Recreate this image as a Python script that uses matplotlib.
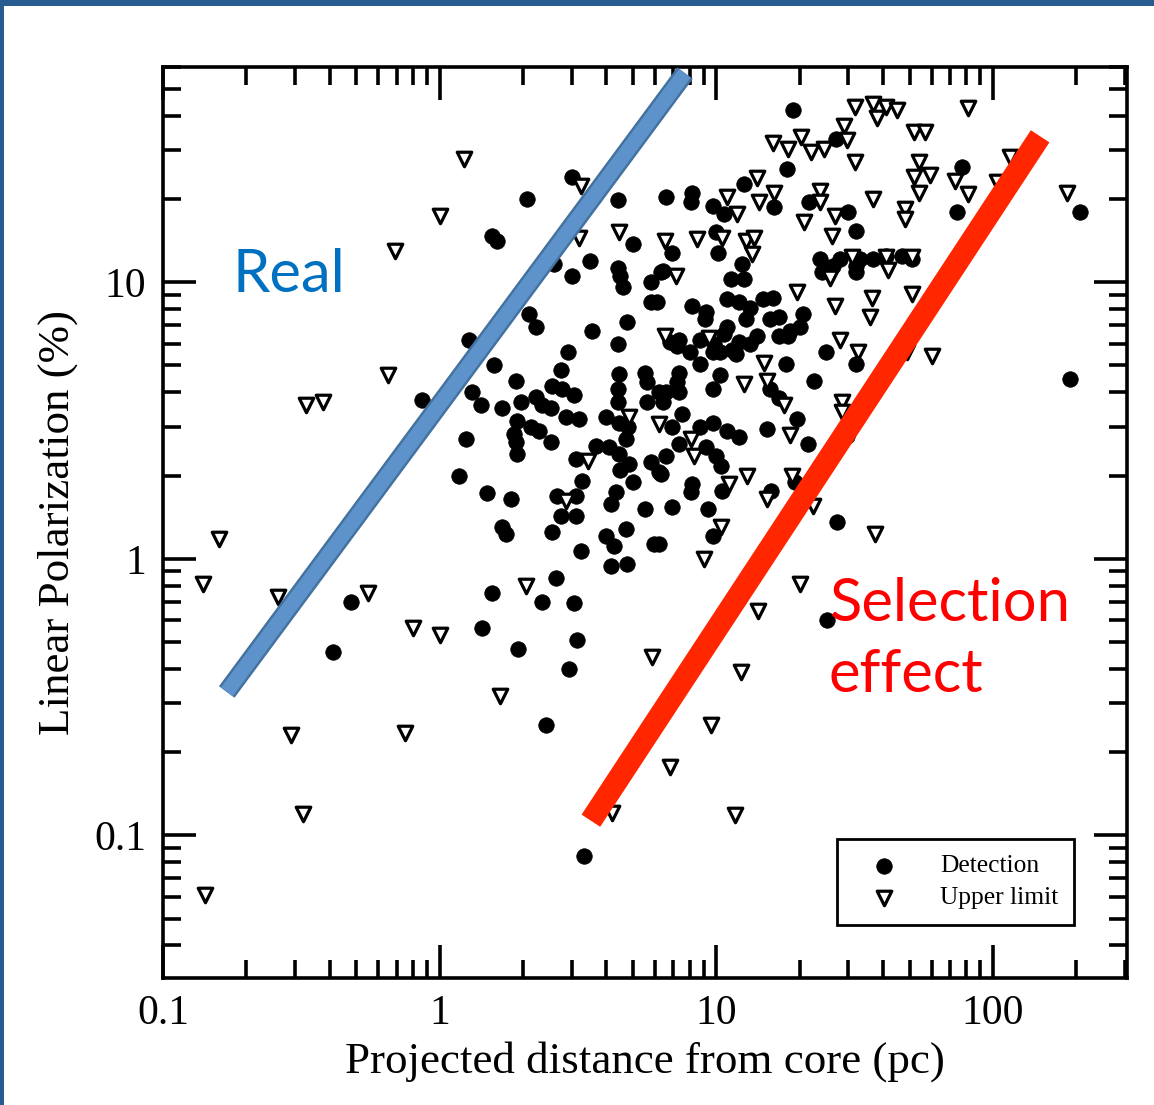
import matplotlib
matplotlib.use("Agg")
import matplotlib.pyplot as plt
import matplotlib.patheffects as pe
from matplotlib.patches import Rectangle

# ---------------- data ----------------
det_x = [3.0, 2.07, 4.4, 6.6, 1.54, 1.61, 3.5, 3.0, 4.4, 4.5, 4.6, 6.3, 5.8, 5.8, 6.1, 2.1, 2.23, 3.55, 4.76, 4.4, 1.28, 2.9, 2.6,
         19, 27, 18, 12.6, 8.2, 8.1, 9.7, 10.7, 16.2, 21.7, 30, 32, 10, 10.1, 6.9, 6.4, 12.4, 11.3, 12.6,
         23.6, 26.3, 32, 36.7, 47, 51, 28, 33, 41, 24, 32, 5.0,
         8.2, 9.2, 10.9, 12.1, 13.2, 16, 16.9, 20.5, 20, 18.1, 10.9, 12.8, 14, 12.1, 11.4, 10.3, 7.2, 8.0, 9.7, 7.35, 8.7, 25, 16.9,
         9.1, 14.7, 15.6, 18.4, 10.7, 6.8, 9.8, 13.2,
         1.57, 1.88, 2.74, 4.45, 5.5, 5.6, 2.55, 2.77, 3.06, 4.4, 1.31, 1.41, 1.97, 2.23, 2.34, 2.53, 1.68, 4.4, 5.6, 6.2,
         2.86, 3.2, 4.0, 4.45, 4.8, 1.9, 2.14, 2.28, 1.85, 1.88, 1.9, 2.53, 1.24, 4.7, 3.67, 4.1, 4.45, 3.1, 4.84, 4.5,
         5.8, 6.2, 5.0, 3.27, 1.17, 1.48, 1.81, 2.65, 3.1, 4.34, 4.17, 5.5, 2.74, 3.1, 1.68, 1.73, 2.55, 4.0, 4.7, 4.27,
         5.96, 3.24, 4.17, 4.76, 2.63, 1.54,
         11.8, 8.7, 10.3, 9.7, 7.35, 7.2, 6.6, 7.35, 6.4, 22.6, 15.6, 16.9, 17.9, 32, 19.5, 15.2, 21.4, 7.5, 6.9, 8.7,
         9.7, 10.9, 12.1, 7.35, 6.6, 9.2, 10, 10.4, 6.3, 8.2, 8.1, 10.5, 15.8, 19.2, 6.9, 9.3, 9.7, 27.4, 6.2, 29.6,
         0.86, 0.48, 1.42, 2.34, 0.41, 1.92, 3.13, 2.93, 2.42, 3.32, 3.06, 25.2, 190, 207, 77, 74]
det_y = [24, 20, 19.8, 20.3, 14.7, 14.1, 11.9, 10.5, 11.3, 10.5, 9.6, 10.9, 10, 8.5, 8.5, 7.7, 6.9, 6.65, 7.2, 6.0, 6.2, 5.6, 11.6,
         42, 33, 25.6, 22.6, 21, 19.5, 18.8, 17.6, 18.7, 19.5, 18, 15.3, 15.2, 12.8, 12.8, 11.0, 11.6, 10.3, 10.3,
         12.1, 11.4, 11.4, 12.1, 12.4, 12.1, 12.1, 12.1, 12.4, 10.9, 10.9, 13.7,
         8.2, 7.8, 8.7, 8.5, 8.1, 8.8, 7.5, 7.7, 6.9, 6.4, 6.9, 7.35, 6.4, 6.1, 5.7, 5.6, 5.9, 5.6, 5.6, 6.2, 6.2, 5.6, 6.4,
         7.35, 8.7, 7.35, 6.65, 6.5, 6.1, 6.0, 6.0,
         5.0, 4.4, 4.8, 4.65, 4.7, 4.36, 4.2, 4.1, 3.9, 4.1, 4.0, 3.6, 3.7, 3.85, 3.6, 3.5, 3.5, 3.7, 3.7, 4.0,
         3.26, 3.2, 3.26, 3.1, 3.0, 3.15, 3.0, 2.9, 2.83, 2.64, 2.4, 2.64, 2.7, 2.7, 2.56, 2.54, 2.4, 2.3, 2.2, 2.1,
         2.24, 2.06, 1.9, 1.91, 2.0, 1.73, 1.65, 1.69, 1.69, 1.75, 1.58, 1.52, 1.43, 1.43, 1.3, 1.23, 1.25, 1.21, 1.28, 1.11,
         1.13, 1.07, 0.94, 0.96, 0.85, 0.75,
         5.5, 5.06, 4.6, 4.1, 4.7, 4.36, 4.0, 4.0, 3.7, 4.4, 4.1, 3.8, 5.06, 5.06, 3.2, 2.94, 2.6, 3.34, 3.0, 3.0,
         3.1, 2.9, 2.76, 2.6, 2.35, 2.54, 2.35, 2.17, 2.03, 1.87, 1.75, 1.76, 1.76, 1.9, 1.54, 1.52, 1.21, 1.36, 1.13, 2.78,
         3.75, 0.70, 0.56, 0.70, 0.46, 0.47, 0.51, 0.40, 0.25, 0.084, 0.69, 0.60, 4.47, 17.9, 26, 18]

ul_x = [0.14, 0.16, 0.142, 0.26, 0.29, 0.32, 0.33, 0.38, 0.55, 0.65, 0.69, 0.75, 0.80, 1.0, 1.0, 1.22, 1.65, 2.05,
        3.24, 3.2, 4.45, 6.5, 6.5, 3.44, 4.84, 6.2, 2.86,
        31.6, 36.7, 41, 45, 38, 29, 29.6, 20.3, 16, 18.1, 22, 24.6, 31.6, 52, 57, 54, 52, 59, 54, 73, 81, 81, 115, 103, 185,
        36.7, 48, 48, 14, 10.9, 16.2, 14.3, 23.6, 23.6, 26.8, 26.1, 20.8, 8.5, 10.5, 12.8, 13.7, 13.4, 7.16,
        30.8, 41, 51, 41.7, 25.7, 19.5, 26.8, 36.5, 35.8, 51, 9.4, 27.9, 32.4, 60, 14.9, 12.6, 15.2, 17.6, 28.4, 28.4,
        18.4, 8.3, 8.1, 12.9, 18.7, 15.3, 22.3, 11.1, 10.4, 37.4, 9.06, 20, 14.2, 12.3, 9.6, 6.8, 11.7, 5.86, 4.2, 49, 11.9]
ul_y = [0.81, 1.18, 0.061, 0.73, 0.23, 0.119, 3.6, 3.7, 0.75, 4.6, 13, 0.235, 0.56, 0.53, 17.3, 27.8, 0.32, 0.80,
        22.2, 14.5, 15.2, 14.1, 6.4, 2.26, 3.26, 3.07, 1.62,
        43, 44, 43, 42, 39.4, 36.6, 32.8, 33.6, 32, 30.2, 29.5, 30.2, 27.1, 35, 34.8, 27.3, 24.1, 24.5, 21.1, 23.2, 20.8, 42.8, 28.3, 23, 21.1,
        20, 18.4, 16.9, 23.9, 20.4, 21.1, 19.5, 21.3, 19.5, 17.3, 14.7, 16.5, 14.3, 14.5, 14.1, 14.5, 12.6, 10.5,
        12.3, 12.3, 12.3, 11.1, 10.4, 9.2, 8.2, 8.8, 7.5, 9.05, 6.3, 6.2, 5.6, 5.4, 5.1, 4.3, 4.4, 3.6, 3.7, 3.4,
        2.8, 2.35, 2.7, 2.0, 2.0, 1.65, 1.55, 1.87, 1.3, 1.23, 1.0, 0.81, 0.65, 0.39, 0.25, 0.177, 0.118, 0.44, 0.12, 5.6, 17.6]

x_ticks = [0.1, 1, 10, 100]
x_ticklabels = ["0.1", "1", "10", "100"]
y_ticks = [0.1, 1, 10]
y_ticklabels = ["0.1", "1", "10"]

real_x = [0.17, 7.7]
real_y = [0.33, 57]
sel_x = [3.52, 148]
sel_y = [0.113, 33.7]

# ---------------- figure ----------------
W, H = 1154, 1105
fig = plt.figure(figsize=(W / 100, H / 100), dpi=100)
ax = fig.add_axes([163 / W, 1 - 978 / H, (1127 - 163) / W, (978 - 67) / H])

serif = ["Liberation Serif", "DejaVu Serif"]

ax.scatter(det_x, det_y, s=125, marker="o", facecolor="black", edgecolor="black",
           linewidths=0.5, label="Detection", zorder=3)
ax.scatter(ul_x, ul_y, s=110, marker="v", facecolor="white", edgecolor="black",
           linewidths=2.3, label="Upper limit", zorder=3)

ax.set_xscale("log")
ax.set_yscale("log")
ax.set_xlim(0.1, 305)
ax.set_ylim(0.0305, 60)

ax.set_xticks(x_ticks, labels=x_ticklabels)
ax.set_yticks(y_ticks, labels=y_ticklabels)
for lab in ax.get_xticklabels() + ax.get_yticklabels():
    lab.set_family(serif)
    lab.set_fontsize(30)

ax.tick_params(which="major", direction="in", length=24, width=2.6, top=True, right=True, pad=12)
ax.tick_params(which="minor", direction="in", length=13, width=2.6, top=True, right=True)
for s in ax.spines.values():
    s.set_linewidth(2.6)

ax.set_xlabel("Projected distance from core (pc)", family=serif, fontsize=32.4, labelpad=6)
ax.set_ylabel("Linear Polarization (%)", family=serif, fontsize=32.4, labelpad=12)

# annotation lines
ax.plot(real_x, real_y, color="#5E92CB", linewidth=10.5, solid_capstyle="butt", zorder=4,
        path_effects=[pe.Stroke(linewidth=14, foreground="#44729F"), pe.Normal()])
ax.plot(sel_x, sel_y, color="#FF2600", linewidth=16, solid_capstyle="butt", zorder=4)

ax.text(0.284, 9.2, "Real", color="#0070C0", family=["Lato", "DejaVu Sans"], fontsize=43,
        ha="center", va="baseline", zorder=5)
ax.text(25.5, 0.597, "Selection", color="#FF0000", family=["Lato", "DejaVu Sans"], fontsize=43,
        ha="left", va="baseline", zorder=5)
ax.text(25.5, 0.331, "effect", color="#FF0000", family=["Lato", "DejaVu Sans"], fontsize=43,
        ha="left", va="baseline", zorder=5)

leg = ax.legend(loc="lower right", bbox_to_anchor=(0.945, 0.058), borderaxespad=0,
                prop={"family": serif, "size": 18.4}, frameon=True, fancybox=False,
                edgecolor="black", framealpha=1, borderpad=0.62, handlelength=2.4,
                handletextpad=1.0, labelspacing=0.35)
leg.get_frame().set_linewidth(2)

# blue slide border
fig.patches.append(Rectangle((0, 1 - 6 / H), 1, 6 / H, transform=fig.transFigure,
                             facecolor="#285C91", edgecolor="none"))
fig.patches.append(Rectangle((0, 0), 4 / W, 1, transform=fig.transFigure,
                             facecolor="#285C91", edgecolor="none"))

fig.savefig("out.png", dpi=100)
